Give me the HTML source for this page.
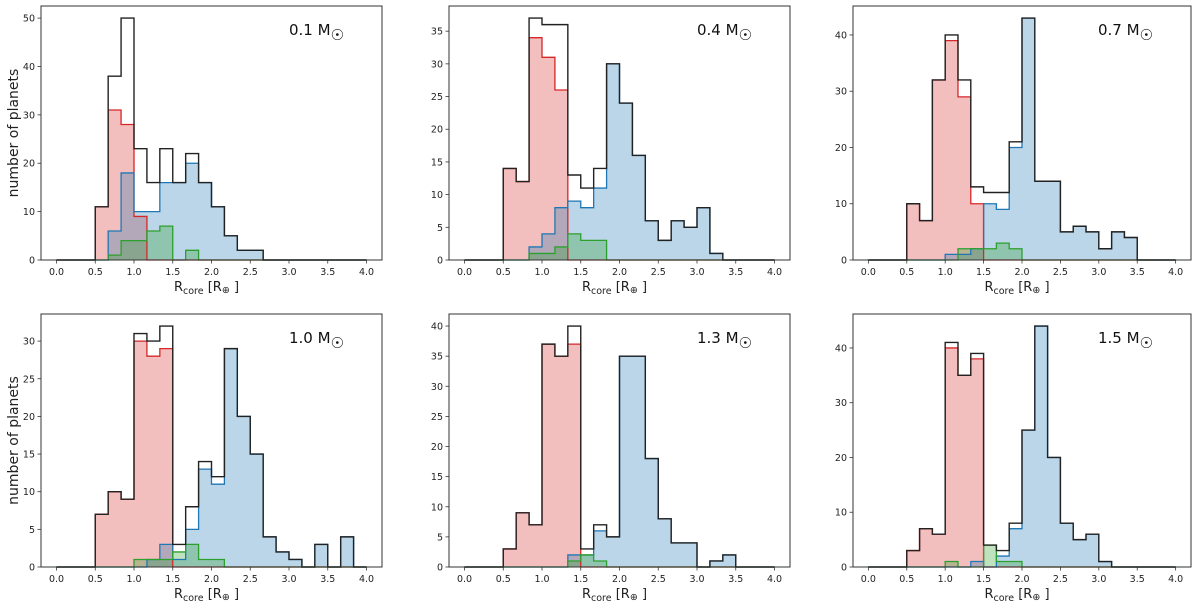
<!DOCTYPE html>
<html><head><meta charset="utf-8">
<style>
html,body{margin:0;padding:0;background:#fff;}
svg{display:block;font-family:"DejaVu Sans","Liberation Sans",sans-serif;}
</style></head>
<body>
<svg id="fig" width="1200" height="605" viewBox="0 0 1200 605"></svg>
<script>
// bins: 24 bins of width 1/6 from 0 to 4
const binStart = 0, binWidth = 1/6;
const panelLabels = ["0.1", "0.4", "0.7", "1.0", "1.3", "1.5"];
const totalCounts = [
 [0,0,0,11,38,50,23,16,23,16,22,16,11,5,2,2,0,0,0,0,0,0,0,0],
 [0,0,0,14,12,37,36,36,13,11,14,30,24,16,6,3,6,5,8,1,0,0,0,0],
 [0,0,0,10,7,32,40,32,13,12,12,21,43,14,14,5,6,5,2,5,4,0,0,0],
 [0,0,0,7,10,9,31,30,32,3,8,14,12,29,20,15,4,2,1,0,3,0,4,0],
 [0,0,0,3,9,7,37,35,40,3,7,5,35,35,18,8,4,4,0,1,2,0,0,0],
 [0,0,0,3,7,6,41,35,39,4,3,8,25,44,20,8,5,6,1,0,0,0,0,0]
];
const redCounts = [
 [0,0,0,11,31,28,9,0,0,0,0,0,0,0,0,0,0,0,0,0,0,0,0,0],
 [0,0,0,14,12,34,31,26,0,0,0,0,0,0,0,0,0,0,0,0,0,0,0,0],
 [0,0,0,10,7,32,39,29,10,0,0,0,0,0,0,0,0,0,0,0,0,0,0,0],
 [0,0,0,7,10,9,30,28,29,0,0,0,0,0,0,0,0,0,0,0,0,0,0,0],
 [0,0,0,3,9,7,37,35,37,0,0,0,0,0,0,0,0,0,0,0,0,0,0,0],
 [0,0,0,3,7,6,40,35,38,0,0,0,0,0,0,0,0,0,0,0,0,0,0,0]
];
const blueCounts = [
 [0,0,0,0,6,18,10,10,16,16,20,16,11,5,2,2,0,0,0,0,0,0,0,0],
 [0,0,0,0,0,2,4,8,9,8,11,30,24,16,6,3,6,5,8,1,0,0,0,0],
 [0,0,0,0,0,0,1,1,2,10,9,20,43,14,14,5,6,5,2,5,4,0,0,0],
 [0,0,0,0,0,0,0,1,3,1,5,13,11,29,20,15,4,2,1,0,3,0,4,0],
 [0,0,0,0,0,0,0,0,2,2,6,5,35,35,18,8,4,4,0,1,2,0,0,0],
 [0,0,0,0,0,0,0,0,1,0,2,7,25,44,20,8,5,6,1,0,0,0,0,0]
];
const greenCounts = [
 [0,0,0,0,1,4,4,6,7,0,2,0,0,0,0,0,0,0,0,0,0,0,0,0],
 [0,0,0,0,0,1,1,2,4,3,3,0,0,0,0,0,0,0,0,0,0,0,0,0],
 [0,0,0,0,0,0,0,2,2,2,3,2,0,0,0,0,0,0,0,0,0,0,0,0],
 [0,0,0,0,0,0,1,1,1,2,3,1,1,0,0,0,0,0,0,0,0,0,0,0],
 [0,0,0,0,0,0,0,0,1,2,1,0,0,0,0,0,0,0,0,0,0,0,0,0],
 [0,0,0,0,0,0,1,0,0,4,1,1,0,0,0,0,0,0,0,0,0,0,0,0]
];
const yTickLabels = [
 [0,10,20,30,40,50],
 [0,5,10,15,20,25,30,35],
 [0,10,20,30,40],
 [0,5,10,15,20,25,30],
 [0,5,10,15,20,25,30,35,40],
 [0,10,20,30,40]
];
const xTickLabels = ["0.0","0.5","1.0","1.5","2.0","2.5","3.0","3.5","4.0"];

const NS = "http://www.w3.org/2000/svg";
const svg = document.getElementById("fig");
function mk(tag, attrs, parent){
  const e = document.createElementNS(NS, tag);
  for (const k in attrs) e.setAttribute(k, attrs[k]);
  (parent||svg).appendChild(e);
  return e;
}
const cols = [[41,382],[449,790],[853,1191]];
const rows = [[6,260],[314,567]];

for (let p = 0; p < 6; p++){
  const [L,R] = cols[p%3];
  const [T,B] = rows[Math.floor(p/3)];
  const g = mk("g", {});
  
  
  const maxV = Math.max(...totalCounts[p]);
  const ymax = maxV * 1.05;
  const xs = v => L + (v + 0.2) / 4.4 * (R - L);
  const ys = v => B - v / ymax * (B - T);

  function stepPath(arr, closed){
    let d = "M" + xs(binStart) + "," + ys(0);
    for (let i = 0; i < arr.length; i++){
      const x0 = xs(binStart + i*binWidth), x1 = xs(binStart + (i+1)*binWidth);
      d += " L" + x0 + "," + ys(arr[i]) + " L" + x1 + "," + ys(arr[i]);
    }
    d += " L" + xs(binStart + arr.length*binWidth) + "," + ys(0);
    if (closed) d += " Z";
    return d;
  }
  const series = [
    [redCounts[p], "rgba(214,39,40,0.3)", "#d62728", "red-histogram"],
    [blueCounts[p], "rgba(31,119,180,0.3)", "#1f77b4", "blue-histogram"],
    [greenCounts[p], "rgba(44,160,44,0.3)", "#2ca02c", "green-histogram"]
  ];
  for (const s of series){
    const f = mk("path", {d: stepPath(s[0], true), fill: s[1], stroke: "none"}, g);
    
    
  }
  for (const s of series){
    const l = mk("path", {d: stepPath(s[0], false), fill: "none", stroke: s[2], "stroke-width": 1.3}, g);
    
    
  }
  const tl = mk("path", {d: stepPath(totalCounts[p], false), fill: "none", stroke: "#222", "stroke-width": 1.4}, g);
  
  

  const frame = mk("rect", {x: L, y: T, width: R-L, height: B-T, fill: "none", stroke: "#333", "stroke-width": 1}, g);
  
  

  xTickLabels.forEach(t => {
    const x = xs(parseFloat(t));
    mk("line", {x1: x, x2: x, y1: B, y2: B+3.5, stroke: "#333", "stroke-width": 0.8}, g);
    const tx = mk("text", {x: x, y: B+15, "font-size": 9.5, "text-anchor": "middle", fill: "#222"}, g);
    tx.textContent = t;
    
    
  });
  yTickLabels[p].forEach(t => {
    const y = ys(t);
    mk("line", {x1: L-3.5, x2: L, y1: y, y2: y, stroke: "#333", "stroke-width": 0.8}, g);
    const ty = mk("text", {x: L-6, y: y+3.5, "font-size": 9.5, "text-anchor": "end", fill: "#222"}, g);
    ty.textContent = t;
    
    
  });
  const xl = mk("text", {x: (L+R)/2 - 5, y: B+31, "font-size": 13, "text-anchor": "middle", fill: "#222"}, g);
  xl.innerHTML = 'R<tspan font-size="9.5" dy="3">core</tspan><tspan dy="-3"> [R</tspan><tspan font-size="9.5" dy="2">⊕</tspan><tspan dy="-2"> ]</tspan>';
  
  

  if (p % 3 === 0){
    const cy = (T+B)/2;
    const yl = mk("text", {x: 0, y: 0, "font-size": 14, "text-anchor": "middle", fill: "#222", transform: "translate(18," + cy + ") rotate(-90)"}, g);
    yl.textContent = "number of planets";
    
    
  }
  const lab = mk("text", {x: R-38, y: T+29, "font-size": 15, "text-anchor": "end", fill: "#111"}, g);
  lab.innerHTML = panelLabels[p] + ' M<tspan font-size="15" dy="5">☉</tspan>';
  
  
}
</script>
</body></html>
